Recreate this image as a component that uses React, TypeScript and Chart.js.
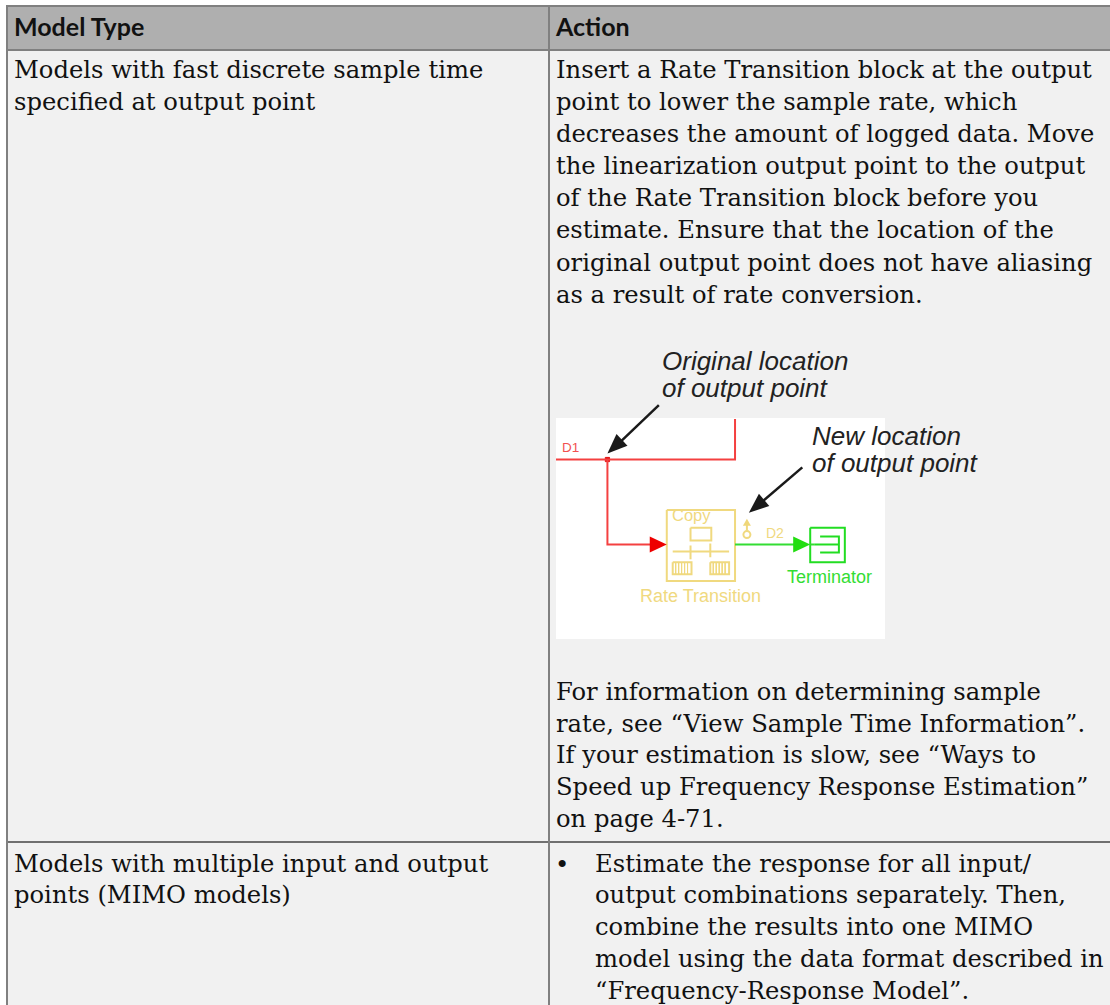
import React, { useEffect, useRef } from "react";
import { Chart, registerables } from "chart.js";

Chart.register(...registerables);

const headers = ["Model Type", "Action"];
const leftLines = [
  ["Models with fast discrete sample time", 69.5],
  ["specified at output point", 101.5],
  ["Models with multiple input and output", 863.5],
  ["points (MIMO models)", 894.5],
] as const;
const rightLines = [
  ["Insert a Rate Transition block at the output", 69.5],
  ["point to lower the sample rate, which", 101.5],
  ["decreases the amount of logged data. Move", 133.5],
  ["the linearization output point to the output", 165.5],
  ["of the Rate Transition block before you", 197.5],
  ["estimate. Ensure that the location of the", 229.5],
  ["original output point does not have aliasing", 262.5],
  ["as a result of rate conversion.", 294.5],
  ["For information on determining sample", 691.5],
  ["rate, see “View Sample Time Information”.", 723.5],
  ["If your estimation is slow, see “Ways to", 754.5],
  ["Speed up Frequency Response Estimation”", 786.5],
  ["on page 4-71.", 818.5],
] as const;
const bulletLines = [
  ["Estimate the response for all input/", 863.5],
  ["output combinations separately. Then,", 894.5],
  ["combine the results into one MIMO", 926.5],
  ["model using the data format described in", 958.5],
  ["“Frequency-Response Model”.", 990.5],
] as const;
const calloutLines = [
  ["Original location", 361, 662],
  ["of output point", 388, 662],
  ["New location", 436, 812],
  ["of output point", 463, 812],
] as const;

const redWires = [[[556, 459], [737, 459], [737, 418]], [[608, 459], [608, 545], [655, 545]]];
const greenWires = [[[737, 545], [800, 545]], [[813, 545], [817, 545]]];
const yellowShapes = [
  [[668, 510], [737, 510], [737, 582], [668, 582], [668, 510]],
  [[692, 528], [713, 528], [713, 541], [692, 541], [692, 528]],
  [[674, 552], [731, 552]],
  [[692, 560], [692, 546]],
  [[712, 544], [712, 558]],
  [[674, 563], [693, 563], [693, 575], [674, 575], [674, 563]],
  [[712, 563], [731, 563], [731, 575], [712, 575], [712, 563]],
  [[749, 531], [749, 522]],
];
const hatchXs = [677, 680, 683, 686, 689, 715, 718, 721, 724, 727];
const hatchY = [563, 575];
const greenShapes = [
  [[813, 528], [848, 528], [848, 563], [813, 563], [813, 528]],
  [[823, 537], [842, 537], [842, 553], [823, 553]],
  [[817, 545], [842, 545]],
];
const blackArrows = [[[660, 404], [615, 447]], [[805, 467], [757, 508]]];
const blackTips = [[608, 453], [751, 513]];
const dotPoints = [[608, 459]];
const yellowMarks = [[749, 535]];

type P = number[][];
const line = (pts: P, color: string, width = 2) => ({
  type: "line" as const,
  data: pts.map(([x, y]) => ({ x, y })),
  borderColor: color,
  borderWidth: width,
  pointRadius: 0,
  tension: 0,
  fill: false,
});

export default function App() {
  const ref = useRef<HTMLCanvasElement>(null);
  useEffect(() => {
    document.body.style.margin = "0";
    const arrowHeads = {
      id: "arrowHeads",
      afterDatasetsDraw(chart: any) {
        const { ctx, scales } = chart;
        const head = (from: number[], to: number[], color: string, len: number, half: number) => {
          const fx = scales.x.getPixelForValue(from[0]);
          const fy = scales.y.getPixelForValue(from[1]);
          const tx = scales.x.getPixelForValue(to[0]);
          const ty = scales.y.getPixelForValue(to[1]);
          const a = Math.atan2(ty - fy, tx - fx);
          ctx.save();
          ctx.fillStyle = color;
          ctx.beginPath();
          ctx.moveTo(tx, ty);
          ctx.lineTo(tx - len * Math.cos(a) + half * Math.sin(a), ty - len * Math.sin(a) - half * Math.cos(a));
          ctx.lineTo(tx - len * Math.cos(a) - half * Math.sin(a), ty - len * Math.sin(a) + half * Math.cos(a));
          ctx.closePath();
          ctx.fill();
          ctx.restore();
        };
        blackArrows.forEach(([f], i) => head(f, blackTips[i], "#1a1a1a", 20, 8));
        head([640, 545], [668, 545], "#ee0000", 17, 8);
        head([790, 545], [813, 545], "#22dd11", 17, 8);
        head([749, 530], [749, 519], "#efd77a", 7, 4);
      },
    };
    const chart = new Chart(ref.current!, {
      type: "scatter",
      data: {
        datasets: [
          ...redWires.map((p) => line(p, "#f44040")),
          ...greenWires.map((p) => line(p, "#33dd33")),
          ...yellowShapes.map((p) => line(p, "#f0d97f")),
          ...hatchXs.map((x) => line([[x, hatchY[0]], [x, hatchY[1]]], "#f0d97f", 1)),
          ...greenShapes.map((p) => line(p, "#22dd22")),
          ...blackArrows.map((p) => line(p, "#1a1a1a", 2.5)),
          {
            type: "scatter" as const,
            data: dotPoints.map(([x, y]) => ({ x, y })),
            pointStyle: "rect",
            pointRadius: 3,
            backgroundColor: "#e01010",
            borderColor: "#e01010",
          },
          {
            type: "scatter" as const,
            data: yellowMarks.map(([x, y]) => ({ x, y })),
            pointStyle: "circle",
            pointRadius: 3.5,
            backgroundColor: "#ffffff",
            borderColor: "#f0d97f",
            borderWidth: 2,
          },
        ] as any,
      },
      plugins: [arrowHeads],
      options: {
        animation: false,
        responsive: false,
        maintainAspectRatio: false,
        layout: { padding: 0 },
        plugins: { legend: { display: false }, tooltip: { enabled: false } },
        scales: {
          x: { type: "linear", min: 0, max: 1110, display: false },
          y: { type: "linear", min: 0, max: 1005, reverse: true, display: false },
        },
      },
    });
    return () => chart.destroy();
  }, []);

  const serif: React.CSSProperties = {
    position: "absolute",
    fontFamily: "'DejaVu Serif'",
    fontSize: 24.25,
    lineHeight: "30px",
    color: "#111111",
    whiteSpace: "nowrap",
  };
  const sans: React.CSSProperties = {
    position: "absolute",
    fontFamily: "Lato",
    fontWeight: 700,
    fontSize: 25,
    lineHeight: "30px",
    color: "#111",
    whiteSpace: "nowrap",
    top: 11,
  };
  const label = (x: number, y: number, size: number, color: string, text: string, italic = false) => (
    <div key={text + x + y} style={{ position: "absolute", left: x, top: y, fontFamily: "'Liberation Sans'", fontSize: size, lineHeight: `${size + 2}px`, color, fontStyle: italic ? "italic" : "normal", whiteSpace: "nowrap" }}>{text}</div>
  );
  const rect = (x: number, y: number, w: number, h: number, bg: string) => (
    <div style={{ position: "absolute", left: x, top: y, width: w, height: h, background: bg }} />
  );
  const Y = -15;
  return (
    <div style={{ position: "relative", width: 1110, height: 1005, background: "#ffffff", overflow: "hidden" }}>
      {rect(7, 6, 1103, 44, "#afafaf")}
      {rect(7, 50, 1103, 955, "#f1f1f1")}
      {rect(6, 5, 1104, 2, "#808080")}
      {rect(6, 49, 1104, 2, "#808080")}
      {rect(6, 841, 1104, 2, "#707070")}
      {rect(6, 5, 2, 1000, "#808080")}
      {rect(548, 5, 2, 1000, "#808080")}
      {rect(556, 418, 329, 221, "#ffffff")}
      <div style={{ ...sans, left: 14 }}>{headers[0]}</div>
      <div style={{ ...sans, left: 556 }}>{headers[1]}</div>
      {leftLines.map(([t, y]) => <div key={t} style={{ ...serif, left: 14, top: y + Y }}>{t}</div>)}
      {rightLines.map(([t, y]) => <div key={t} style={{ ...serif, left: 556, top: y + Y }}>{t}</div>)}
      <div style={{ ...serif, left: 555, top: 865 + Y }}>•</div>
      {bulletLines.map(([t, y]) => <div key={t} style={{ ...serif, left: 595, top: y + Y }}>{t}</div>)}
      {calloutLines.map(([t, y, x]) => label(x, y - 14, 26, "#222", t, true))}
      {label(562, 440, 13.5, "#f25050", "D1")}
      {label(672, 506, 16.5, "#f0d97f", "Copy")}
      {label(766, 525, 14, "#f0d97f", "D2")}
      {label(787, 567, 18, "#33dd33", "Terminator")}
      {label(640, 586, 18, "#f0d97f", "Rate Transition")}
      <canvas ref={ref} width={1110} height={1005} style={{ position: "absolute", left: 0, top: 0, width: 1110, height: 1005 }} />
    </div>
  );
}
